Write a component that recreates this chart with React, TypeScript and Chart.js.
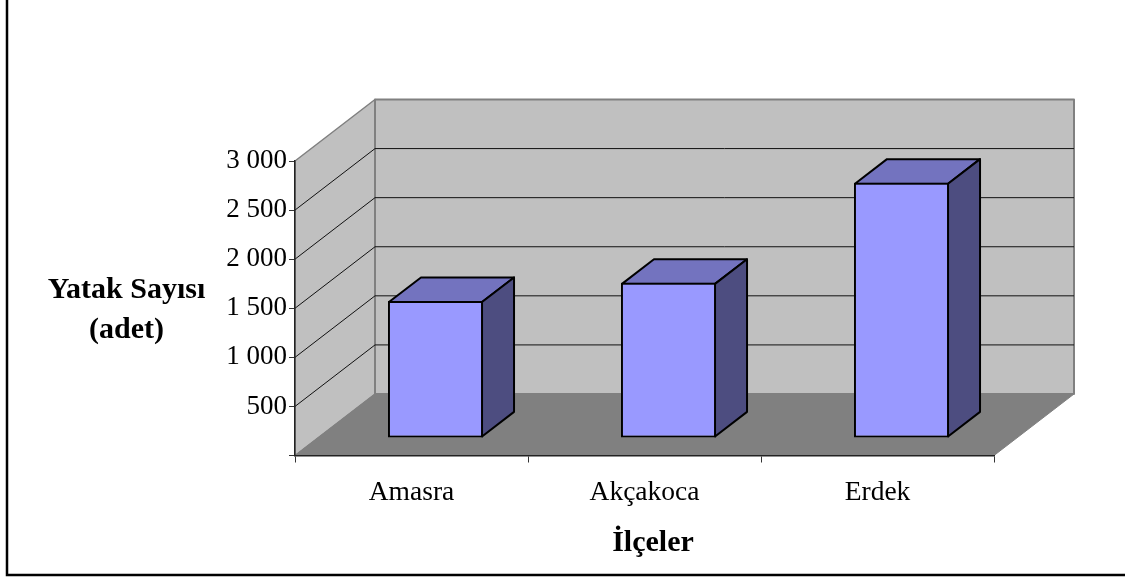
import React, { useEffect, useRef } from "react";
import { Chart, registerables } from "chart.js";

Chart.register(...registerables);

const categories = ["Amasra", "Akçakoca", "Erdek"];
const bedCounts = [1395, 1580, 2600];
const yTitleLines = ["Yatak Sayısı", "(adet)"];
const xTitle = "İlçeler";
const yMax = 3000;
const yStep = 500;

const FONT = '"Liberation Serif", "Times New Roman", serif';
const DEPTH_X = 80;
const DEPTH_Y = 61.5;
const BAR_FRONT = 0.3;
const BAR_FRONT_Y = 0.285;
const BAR_DEPTH = 0.4;

const poly = (ctx: CanvasRenderingContext2D, pts: number[][], fill: string | null, stroke: string | null, lw = 1) => {
  ctx.beginPath();
  pts.forEach(([x, y], i) => (i ? ctx.lineTo(x, y) : ctx.moveTo(x, y)));
  ctx.closePath();
  if (fill) {
    ctx.fillStyle = fill;
    ctx.fill();
  }
  if (stroke) {
    ctx.strokeStyle = stroke;
    ctx.lineWidth = lw;
    ctx.lineJoin = "round";
    ctx.stroke();
  }
};

const depthPlugin = {
  id: "depth",
  beforeDraw(chart: any) {
    const { ctx, width, height, chartArea: a, scales } = chart;
    ctx.save();
    ctx.fillStyle = "#fff";
    ctx.fillRect(0, 0, width, height);
    // frame
    ctx.strokeStyle = "#000";
    ctx.lineWidth = 2.5;
    ctx.beginPath();
    ctx.moveTo(7, 0);
    ctx.lineTo(7, 575);
    ctx.lineTo(width, 575);
    ctx.stroke();
    const dx = DEPTH_X;
    const dy = DEPTH_Y;
    // walls
    poly(ctx, [[a.left, a.top], [a.left + dx, a.top - dy], [a.left + dx, a.bottom - dy], [a.left, a.bottom]], "#c0c0c0", "#808080", 1.5);
    poly(ctx, [[a.left + dx, a.top - dy], [a.right + dx, a.top - dy], [a.right + dx, a.bottom - dy], [a.left + dx, a.bottom - dy]], "#c0c0c0", "#808080", 2);
    // floor
    poly(ctx, [[a.left, a.bottom], [a.left + dx, a.bottom - dy], [a.right + dx, a.bottom - dy], [a.right, a.bottom]], "#808080", "#808080", 1);
    // gridlines through the y scale
    ctx.strokeStyle = "#111";
    ctx.lineWidth = 1;
    scales.y.ticks.forEach((t: any) => {
      if (t.value === 0 || t.value === yMax) return;
      const y = scales.y.getPixelForValue(t.value);
      ctx.beginPath();
      ctx.moveTo(a.left, y);
      ctx.lineTo(a.left + dx, y - dy);
      ctx.lineTo(a.right + dx, y - dy);
      ctx.stroke();
    });
    ctx.restore();
  },
  beforeDatasetDraw(chart: any, args: any) {
    const { ctx } = chart;
    const ox = DEPTH_X * BAR_FRONT;
    const oy = DEPTH_Y * BAR_FRONT_Y;
    const bx = DEPTH_X * BAR_DEPTH;
    const by = DEPTH_Y * BAR_DEPTH;
    ctx.save();
    ctx.beginPath();
    ctx.rect(0, 0, chart.width, chart.height);
    ctx.clip();
    ctx.translate(ox, -oy);
    args.meta.data.forEach((bar: any) => {
      const { x, y, base, width } = bar.getProps(["x", "y", "base", "width"], true);
      const l = x - width / 2 + 1;
      const r = x + width / 2 - 1;
      const t = y + 1;
      const b = base - 1;
      poly(ctx, [[l, t], [l + bx, t - by], [r + bx, t - by], [r, t]], "#7373bf", "#000", 2);
      poly(ctx, [[r, t], [r + bx, t - by], [r + bx, b - by], [r, b]], "#4d4d80", "#000", 2);
    });
  },
  afterDatasetDraw(chart: any) {
    chart.ctx.restore();
  },
  afterDraw(chart: any) {
    const { ctx } = chart;
    ctx.save();
    ctx.fillStyle = "#000";
    ctx.font = `bold 30px ${FONT}`;
    ctx.textAlign = "center";
    ctx.textBaseline = "alphabetic";
    yTitleLines.forEach((line, i) => ctx.fillText(line, 126.5, 298 + i * 39.5));
    ctx.fillText(xTitle, 653, 551);
    ctx.restore();
  },
};

export default function App() {
  const ref = useRef<HTMLCanvasElement>(null);
  useEffect(() => {
    const chart = new Chart(ref.current as HTMLCanvasElement, {
      type: "bar",
      data: {
        labels: categories,
        datasets: [
          {
            label: "Yatak Sayısı",
            data: bedCounts,
            backgroundColor: "#9999ff",
            borderColor: "#000",
            borderWidth: 2,
            borderSkipped: false,
            barPercentage: 0.408,
            categoryPercentage: 1,
          },
        ],
      },
      options: {
        responsive: false,
        animation: false,
        layout: { padding: { left: 0, top: 161, right: 131, bottom: 0 } },
        plugins: { legend: { display: false }, title: { display: false }, tooltip: { enabled: false } },
        scales: {
          x: {
            grid: { drawOnChartArea: false, drawTicks: true, tickLength: 7, color: "#333", offset: true },
            border: { color: "#222", width: 1.5 },
            ticks: { color: "#000", padding: 14, font: { family: FONT, size: 27.5 }, maxRotation: 0 },
            afterFit: (s: any) => {
              s.height = 123.5;
            },
          },
          y: {
            min: 0,
            max: yMax,
            grid: { drawOnChartArea: false, drawTicks: true, tickLength: 6, color: "#333" },
            border: { color: "#222", width: 1.5 },
            ticks: {
              stepSize: yStep,
              color: "#000",
              padding: 2,
              font: { family: FONT, size: 27 },
              callback: (v: any) => (v === 0 ? "" : String(v).replace(/\B(?=(\d{3})+$)/g, " ")),
            },
            afterFit: (s: any) => {
              s.width = 295;
            },
          },
        },
      },
      plugins: [depthPlugin],
    } as any);
    return () => chart.destroy();
  }, []);
  return (
    <div style={{ position: "fixed", left: 0, top: 0, width: 1125, height: 579 }}>
      <canvas ref={ref} width={1125} height={579} style={{ display: "block" }} />
    </div>
  );
}
